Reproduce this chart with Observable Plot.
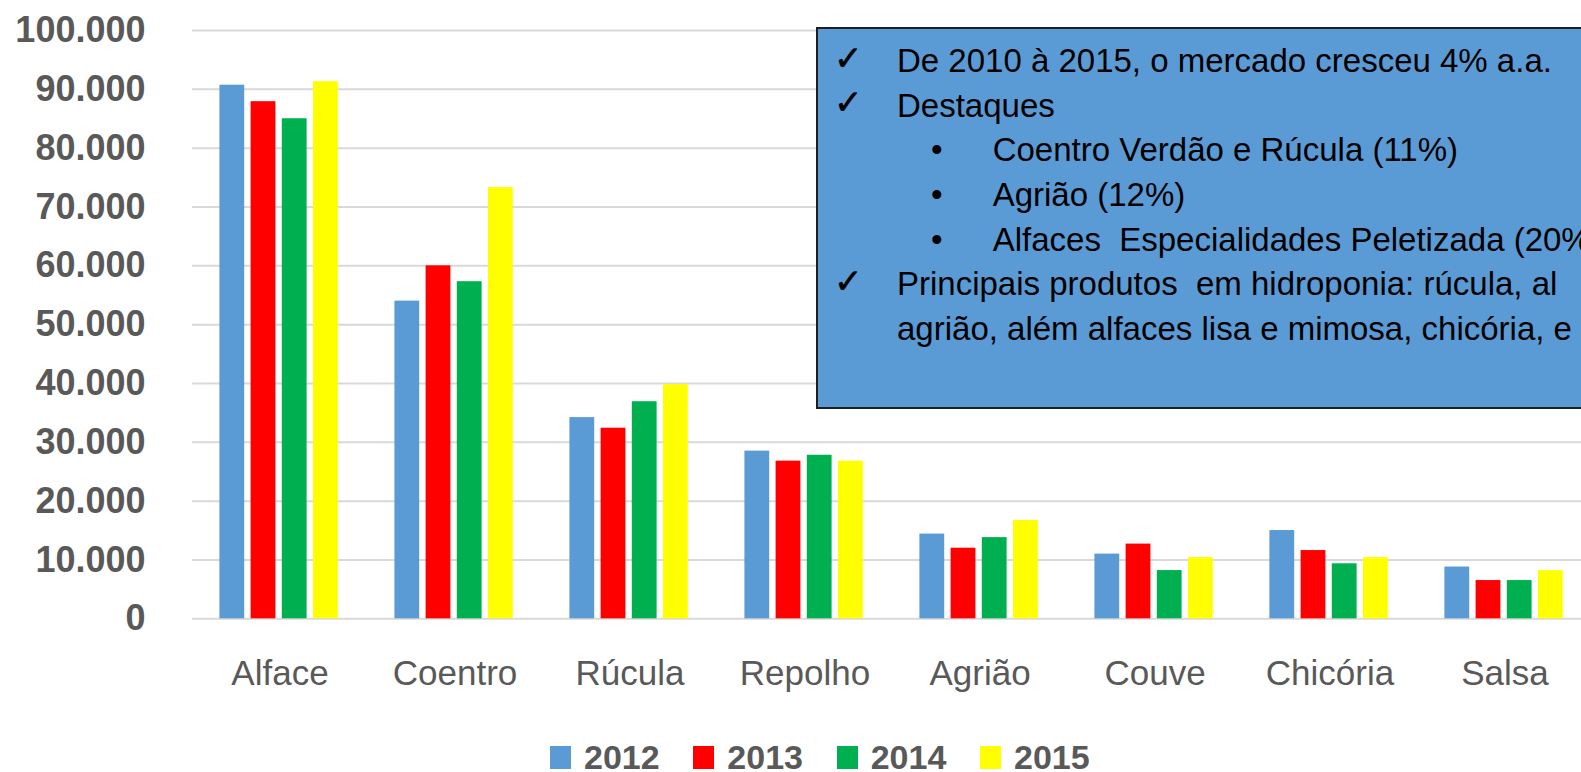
<!DOCTYPE html>
<html>
<head>
<meta charset="utf-8">
<script src="https://cdn.jsdelivr.net/npm/d3@7"></script>
<script src="https://cdn.jsdelivr.net/npm/@observablehq/plot@0.6"></script>
<style>
  html, body { margin: 0; padding: 0; overflow: hidden; background: #fff; }
  #wrap { position: relative; width: 1581px; height: 772px; overflow: hidden; font-family: "Liberation Sans", Arial, sans-serif; }
  #chart svg { display: block; }
  #legend { position: absolute; left: 550px; top: 744px; display: flex; align-items: flex-start; }
  #legend .item { display: flex; align-items: flex-start; margin-right: 33.7px; }
  #legend .sw { width: 21px; height: 23px; margin-top: 2px; margin-right: 13px; }
  #legend .lab { font: bold 34px/26px "Liberation Sans", Arial, sans-serif; color: #595959; }
  #note { position: absolute; left: 816px; top: 27px; width: 900px; height: 378px; background: #5B9BD5; border: 2px solid #1e1e1e; }
  .ln { position: absolute; font: 33px/33px "Liberation Sans", Arial, sans-serif; color: #000; white-space: pre; }
  .ck { position: absolute; font: 34px/34px "DejaVu Sans", sans-serif; color: #000; -webkit-text-stroke: 0.6px #000; }
  .bl { position: absolute; font: 33px/33px "Liberation Sans", Arial, sans-serif; color: #000; }
</style>
</head>
<body>
<div id="wrap">
  <div id="chart"></div>
  <div id="note"></div>
  <div id="notetext"></div>
  <div id="legend"></div>
</div>
<script>
// ---- data ----
const categories = ["Alface", "Coentro", "Rúcula", "Repolho", "Agrião", "Couve", "Chicória", "Salsa"];
const years = ["2012", "2013", "2014", "2015"];
const v2012 = [90700, 54000, 34200, 28500, 14400, 11000, 15000, 8800];
const v2013 = [87900, 60000, 32400, 26800, 12000, 12700, 11600, 6500];
const v2014 = [85000, 57300, 36900, 27800, 13800, 8200, 9350, 6500];
const v2015 = [91300, 73300, 39800, 26800, 16700, 10400, 10400, 8200];
const yTicks = [0, 10000, 20000, 30000, 40000, 50000, 60000, 70000, 80000, 90000, 100000];
const colors = ["#5B9BD5", "#FF0000", "#00B050", "#FFFF00"];
const noteLines = [
  {kind: "check", text: "De 2010 à 2015, o mercado cresceu 4% a.a."},
  {kind: "check", text: "Destaques"},
  {kind: "bullet", text: "Coentro Verdão e Rúcula (11%)"},
  {kind: "bullet", text: "Agrião (12%)"},
  {kind: "bullet", text: "Alfaces  Especialidades Peletizada (20%)"},
  {kind: "check", text: "Principais produtos  em hidroponia: rúcula, al"},
  {kind: "cont", text: "agrião, além alfaces lisa e mimosa, chicória, e"}
];

const series = [v2012, v2013, v2014, v2015];
const rows = [];
years.forEach((yr, i) => categories.forEach((c, j) => rows.push({cat: c, year: yr, value: series[i][j]})));

const fmt = d3.formatLocale({decimal: ",", thousands: ".", grouping: [3], currency: ["R$", ""]}).format(",");

// bar layout inside each category band
const bandW = 175.7, barW = 25.5, barStep = 31.2;
const clusterW = barStep * 3 + barW;
const off0 = (bandW - clusterW) / 2 - 0.9;

const marks = [
  Plot.gridY({ticks: yTicks, stroke: "#D9D9D9", strokeOpacity: 1, strokeWidth: 2}),
  Plot.axisY({ticks: yTicks, tickFormat: fmt, tickSize: 0, tickPadding: 47, label: null,
              fontSize: 36, fontWeight: "bold", fontFamily: "Liberation Sans, Arial, sans-serif", color: "#595959"}),
  Plot.axisX({tickSize: 0, tickPadding: 41, label: null,
              fontSize: 35, fontFamily: "Liberation Sans, Arial, sans-serif", color: "#595959"})
];
years.forEach((yr, i) => {
  const il = off0 + i * barStep;
  marks.push(Plot.barY(rows.filter(d => d.year === yr), {
    x: "cat", y: "value", fill: colors[i],
    insetLeft: il, insetRight: bandW - il - barW
  }));
});

const chart = Plot.plot({
  width: 1581, height: 700,
  marginLeft: 192, marginRight: 0, marginTop: 30, marginBottom: 81.7,
  style: {background: "transparent", color: "#595959", overflow: "hidden"},
  x: {type: "band", domain: categories, range: [189.5, 189.5 + bandW * categories.length], padding: 0, label: null},
  y: {domain: [0, 100000], label: null},
  marks
});
document.getElementById("chart").appendChild(chart);

// annotation box text
const nt = document.getElementById("notetext");
noteLines.forEach((l, i) => {
  const base = 71.7 + i * 44.7;
  if (l.kind === "check") {
    const c = document.createElement("div"); c.className = "ck"; c.textContent = "✓";
    c.style.left = "834px"; c.style.top = (base - 31) + "px"; nt.appendChild(c);
  }
  if (l.kind === "bullet") {
    const b = document.createElement("div"); b.className = "bl"; b.textContent = "•";
    b.style.left = "931px"; b.style.top = (base - 27.9) + "px"; nt.appendChild(b);
  }
  const t = document.createElement("div"); t.className = "ln"; t.textContent = l.text;
  t.style.left = (l.kind === "bullet" ? 992.7 : 897) + "px";
  t.style.top = (base - 27.9) + "px";
  nt.appendChild(t);
});

// legend
const lg = document.getElementById("legend");
years.forEach((yr, i) => {
  const it = document.createElement("div"); it.className = "item";
  const sw = document.createElement("div"); sw.className = "sw"; sw.style.background = colors[i];
  const lb = document.createElement("div"); lb.className = "lab"; lb.textContent = yr;
  it.appendChild(sw); it.appendChild(lb); lg.appendChild(it);
});
</script>
</body>
</html>
